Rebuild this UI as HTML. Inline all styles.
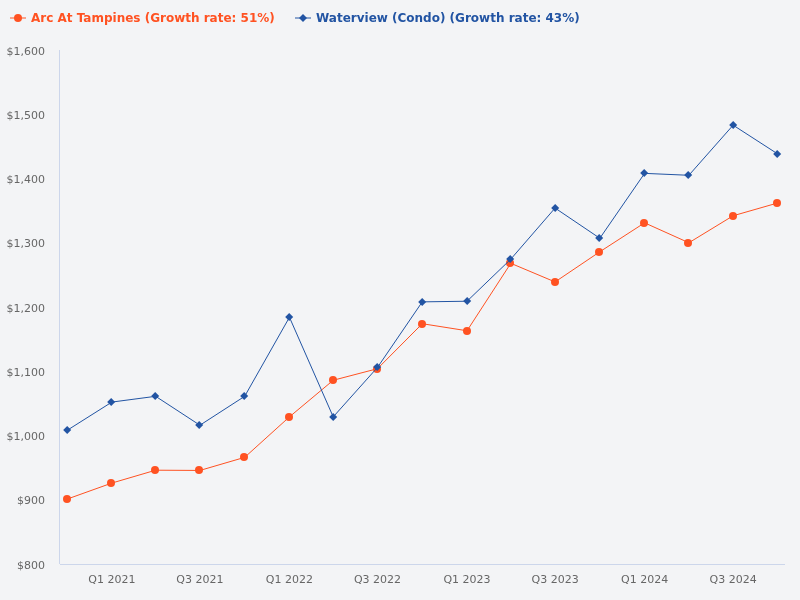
<!DOCTYPE html>
<html><head><meta charset="utf-8"><title>Chart</title>
<style>
html,body{margin:0;padding:0;background:#f3f4f6;}
svg{display:block;will-change:transform;font-family:"DejaVu Sans","Liberation Sans",sans-serif;}
.ax{font-size:11px;fill:#666666;}
.lg{font-size:12px;font-weight:bold;}
</style></head><body>
<svg width="800" height="600" viewBox="0 0 800 600">
<rect x="0" y="0" width="800" height="600" fill="#f3f4f6"/>
<path d="M 59.5 50 L 59.5 564" stroke="#ccd6eb" stroke-width="1" fill="none"/>
<path d="M 60 564.5 L 785 564.5" stroke="#ccd6eb" stroke-width="1" fill="none"/>
<text class="ax" x="45" y="54.50" text-anchor="end">$1,600</text>
<text class="ax" x="45" y="118.75" text-anchor="end">$1,500</text>
<text class="ax" x="45" y="183.00" text-anchor="end">$1,400</text>
<text class="ax" x="45" y="247.25" text-anchor="end">$1,300</text>
<text class="ax" x="45" y="311.50" text-anchor="end">$1,200</text>
<text class="ax" x="45" y="375.75" text-anchor="end">$1,100</text>
<text class="ax" x="45" y="440.00" text-anchor="end">$1,000</text>
<text class="ax" x="45" y="504.25" text-anchor="end">$900</text>
<text class="ax" x="45" y="568.50" text-anchor="end">$800</text>
<text class="ax" x="111.87" y="583" text-anchor="middle">Q1 2021</text>
<text class="ax" x="199.92" y="583" text-anchor="middle">Q3 2021</text>
<text class="ax" x="289.44" y="583" text-anchor="middle">Q1 2022</text>
<text class="ax" x="377.50" y="583" text-anchor="middle">Q3 2022</text>
<text class="ax" x="467.02" y="583" text-anchor="middle">Q1 2023</text>
<text class="ax" x="555.07" y="583" text-anchor="middle">Q3 2023</text>
<text class="ax" x="644.59" y="583" text-anchor="middle">Q1 2024</text>
<text class="ax" x="733.13" y="583" text-anchor="middle">Q3 2024</text>
<path d="M 67.11 499.11 L 111.87 483.05 L 155.65 470.19 L 199.92 470.45 L 244.68 457.35 L 289.44 416.87 L 333.23 380.25 L 377.50 368.68 L 422.26 323.71 L 467.02 330.77 L 510.80 263.31 L 555.07 281.94 L 599.83 251.75 L 644.59 222.83 L 688.86 242.75 L 733.13 215.76 L 777.89 202.92" stroke="#ff5222" stroke-width="1" fill="none" stroke-linejoin="round" stroke-linecap="round"/>
<circle cx="67.00" cy="499.00" r="4" fill="#ff5222"/>
<circle cx="111.00" cy="483.00" r="4" fill="#ff5222"/>
<circle cx="155.00" cy="470.00" r="4" fill="#ff5222"/>
<circle cx="199.00" cy="470.00" r="4" fill="#ff5222"/>
<circle cx="244.00" cy="457.00" r="4" fill="#ff5222"/>
<circle cx="289.00" cy="417.00" r="4" fill="#ff5222"/>
<circle cx="333.00" cy="380.00" r="4" fill="#ff5222"/>
<circle cx="377.00" cy="369.00" r="4" fill="#ff5222"/>
<circle cx="422.00" cy="324.00" r="4" fill="#ff5222"/>
<circle cx="467.00" cy="331.00" r="4" fill="#ff5222"/>
<circle cx="510.00" cy="263.00" r="4" fill="#ff5222"/>
<circle cx="555.00" cy="282.00" r="4" fill="#ff5222"/>
<circle cx="599.00" cy="252.00" r="4" fill="#ff5222"/>
<circle cx="644.00" cy="223.00" r="4" fill="#ff5222"/>
<circle cx="688.00" cy="243.00" r="4" fill="#ff5222"/>
<circle cx="733.00" cy="216.00" r="4" fill="#ff5222"/>
<circle cx="777.00" cy="203.00" r="4" fill="#ff5222"/>
<path d="M 67.11 430.36 L 111.87 402.09 L 155.65 396.31 L 199.92 425.22 L 244.68 396.31 L 289.44 317.28 L 333.23 416.87 L 377.50 367.39 L 422.26 301.86 L 467.02 301.22 L 510.80 259.13 L 555.07 208.06 L 599.83 238.25 L 644.59 173.36 L 688.86 175.29 L 733.13 125.17 L 777.89 154.08" stroke="#2254a3" stroke-width="1" fill="none" stroke-linejoin="round" stroke-linecap="round"/>
<path d="M 67.20 426.10 L 71.20 430.10 L 67.20 434.10 L 63.20 430.10 Z" fill="#2254a3"/>
<path d="M 111.20 398.10 L 115.20 402.10 L 111.20 406.10 L 107.20 402.10 Z" fill="#2254a3"/>
<path d="M 155.20 392.10 L 159.20 396.10 L 155.20 400.10 L 151.20 396.10 Z" fill="#2254a3"/>
<path d="M 199.20 421.10 L 203.20 425.10 L 199.20 429.10 L 195.20 425.10 Z" fill="#2254a3"/>
<path d="M 244.20 392.10 L 248.20 396.10 L 244.20 400.10 L 240.20 396.10 Z" fill="#2254a3"/>
<path d="M 289.20 313.10 L 293.20 317.10 L 289.20 321.10 L 285.20 317.10 Z" fill="#2254a3"/>
<path d="M 333.20 413.10 L 337.20 417.10 L 333.20 421.10 L 329.20 417.10 Z" fill="#2254a3"/>
<path d="M 377.20 363.10 L 381.20 367.10 L 377.20 371.10 L 373.20 367.10 Z" fill="#2254a3"/>
<path d="M 422.20 298.10 L 426.20 302.10 L 422.20 306.10 L 418.20 302.10 Z" fill="#2254a3"/>
<path d="M 467.20 297.10 L 471.20 301.10 L 467.20 305.10 L 463.20 301.10 Z" fill="#2254a3"/>
<path d="M 510.20 255.10 L 514.20 259.10 L 510.20 263.10 L 506.20 259.10 Z" fill="#2254a3"/>
<path d="M 555.20 204.10 L 559.20 208.10 L 555.20 212.10 L 551.20 208.10 Z" fill="#2254a3"/>
<path d="M 599.20 234.10 L 603.20 238.10 L 599.20 242.10 L 595.20 238.10 Z" fill="#2254a3"/>
<path d="M 644.20 169.10 L 648.20 173.10 L 644.20 177.10 L 640.20 173.10 Z" fill="#2254a3"/>
<path d="M 688.20 171.10 L 692.20 175.10 L 688.20 179.10 L 684.20 175.10 Z" fill="#2254a3"/>
<path d="M 733.20 121.10 L 737.20 125.10 L 733.20 129.10 L 729.20 125.10 Z" fill="#2254a3"/>
<path d="M 777.20 150.10 L 781.20 154.10 L 777.20 158.10 L 773.20 154.10 Z" fill="#2254a3"/>
<path d="M 10 18 L 26 18" stroke="#ff5222" stroke-width="1" fill="none"/>
<circle cx="18.00" cy="18.00" r="4" fill="#ff5222"/>
<text class="lg" x="31" y="22" fill="#ff5222">Arc At Tampines (Growth rate: 51%)</text>
<path d="M 295 18 L 311 18" stroke="#2254a3" stroke-width="1" fill="none"/>
<path d="M 303.00 14.00 L 307.00 18.00 L 303.00 22.00 L 299.00 18.00 Z" fill="#2254a3"/>
<text class="lg" x="316" y="22" fill="#2254a3">Waterview (Condo) (Growth rate: 43%)</text>
</svg></body></html>
